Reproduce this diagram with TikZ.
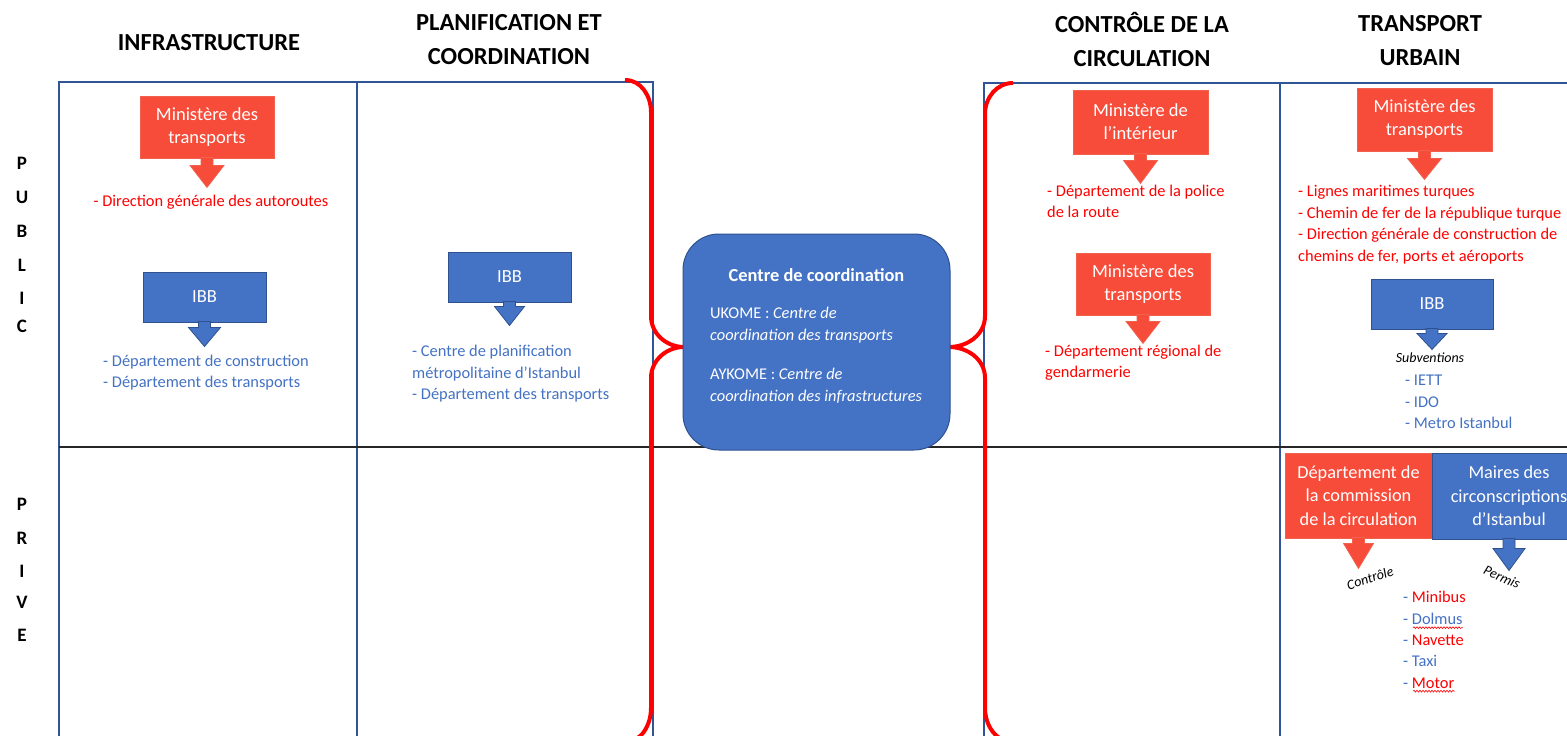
\documentclass[tikz,border=0pt]{standalone}
\usepackage{fontspec}
\setmainfont{Carlito}
\usetikzlibrary{calc,decorations.pathmorphing}
\definecolor{redbox}{RGB}{247,76,58}
\definecolor{redboxline}{RGB}{242,96,78}
\definecolor{bluebox}{RGB}{68,114,196}
\definecolor{blueline}{RGB}{47,82,143}
\definecolor{tableline}{RGB}{47,85,151}
\definecolor{redtxt}{RGB}{255,0,0}
\definecolor{bluetxt}{RGB}{68,114,196}
\definecolor{bracered}{RGB}{255,0,0}
\tikzset{
  redmin/.style={fill=redbox, draw=redboxline, line width=0.8pt, text=white, align=center,
    font=\fontsize{18.5}{23}\selectfont, inner sep=0pt},
  bluemin/.style={fill=bluebox, draw=blueline, line width=1pt, text=white, align=center,
    font=\fontsize{18.5}{23}\selectfont, inner sep=0pt},
  redlist/.style={text=redtxt, align=left, anchor=west, inner sep=0pt,
    font=\fontsize{16.4}{21.5}\selectfont},
  bluelist/.style={text=bluetxt, align=left, anchor=west, inner sep=0pt,
    font=\fontsize{16.4}{21.5}\selectfont},
  header/.style={font=\bfseries\fontsize{24.5}{34}\selectfont, align=center, inner sep=0pt},
  sideletter/.style={font=\bfseries\fontsize{19}{19}\selectfont, inner sep=0pt},
  bracepath/.style={draw=bracered, line width=4pt},
  gridline/.style={draw=tableline, line width=1.4pt},
  rowline/.style={draw=black!85, line width=1.1pt},
  smallital/.style={font=\itshape\fontsize{14}{16}\selectfont, inner sep=0pt},
  centerbox/.style={fill=bluebox, draw=blueline, line width=1pt, rounded corners=36pt,
    minimum width=267pt, minimum height=216pt, inner sep=0pt},
  wavy/.style={draw=redtxt, line width=0.6pt, decorate,
    decoration={snake, amplitude=0.9pt, segment length=3pt}},
}
% #1 node, #2 fill, #3 border, #4 stem length, #5 triangle height, #6 half base
\newcommand\calloutarrow[6]{%
  \filldraw[fill=#2, draw=#3, line width=0.8pt]
    ($(#1.south)+(-6,-1)$) -- ($(#1.south)+(-6,#4)$) -- ($(#1.south)+(-#6,#4)$)
    -- ($(#1.south)+(0,#4+#5)$) -- ($(#1.south)+(#6,#4)$) -- ($(#1.south)+(6,#4)$)
    -- ($(#1.south)+(6,-1)$) -- cycle;
}
\begin{document}
\begin{tikzpicture}[x=1pt,y=-1pt]
\useasboundingbox (0,0) rectangle (1567,736);
\clip (0,0) rectangle (1567,736);
\fill[white] (0,0) rectangle (1567,736);

% headers
\node[header] (h1) at (209,43) {INFRASTRUCTURE};
\node[header] (h2) at (509,40) {PLANIFICATION ET\\COORDINATION};
\node[header] (h4) at (1142,40) {CONTRÔLE DE LA\\CIRCULATION};
\node[header] (h5) at (1420,41) {TRANSPORT\\URBAIN};

% side letters
\node[sideletter] (pu1) at (22,163) {P};
\node[sideletter] (pu2) at (22,197) {U};
\node[sideletter] (pu3) at (22,231) {B};
\node[sideletter] (pu4) at (22,265) {L};
\node[sideletter] (pu5) at (22,298) {I};
\node[sideletter] (pu6) at (22,326) {C};
\node[sideletter] (pr1) at (22,504) {P};
\node[sideletter] (pr2) at (22,538) {R};
\node[sideletter] (pr3) at (22,571) {I};
\node[sideletter] (pr4) at (22,602) {V};
\node[sideletter] (pr5) at (22,635) {E};

% table
\draw[gridline] (59,740) -- (59,82) -- (653,82) -- (653,740);
\draw[gridline] (357,82) -- (357,740);
\draw[gridline] (984,740) -- (984,83) -- (1570,83);
\draw[gridline] (1280,83) -- (1280,740);
\draw[rowline] (59,447) -- (1570,447);

% braces
\coordinate (lbt) at (625,80);
\coordinate (lbtip) at (684,347);
\coordinate (lbb) at (625,742);
\draw[bracepath] (lbt) to[out=0,in=90] (651,112) -- (651,316) to[out=-90,in=180] (lbtip);
\draw[bracepath] (lbtip) to[out=180,in=90] (651,378) -- (651,708) to[out=-90,in=0] (lbb);
\coordinate (rbt) at (1013,83);
\coordinate (rbtip) at (949,347);
\coordinate (rbb) at (1013,742);
\draw[bracepath] (rbt) to[out=180,in=90] (985,114) -- (985,316) to[out=-90,in=0] (rbtip);
\draw[bracepath] (rbtip) to[out=0,in=90] (985,378) -- (985,708) to[out=-90,in=180] (rbb);

% center box
\node[centerbox] (cc) at (816.5,342) {};
\node[text=white, font=\bfseries\fontsize{18.4}{20}\selectfont, inner sep=0pt] (cct) at (816.5,275) {Centre de coordination};
\node[text=white, anchor=west, align=left, inner sep=0pt, font=\fontsize{16.4}{22}\selectfont] (ukome) at (710,325)
  {UKOME : \textit{Centre de}\\\textit{coordination des transports}};
\node[text=white, anchor=west, align=left, inner sep=0pt, font=\fontsize{16.4}{22}\selectfont] (aykome) at (710,385.5)
  {AYKOME : \textit{Centre de}\\\textit{coordination des infrastructures}};

% column 1
\node[redmin, minimum width=134pt, minimum height=62pt] (m1) at (207,127) {Ministère des\\transports};
\calloutarrow{m1}{redbox}{redboxline}{7}{22}{17}
\node[redlist, anchor=center] (t1) at (211,202) {- Direction générale des autoroutes};
\node[bluemin, minimum width=123pt, minimum height=50pt] (ibb1) at (204.5,297) {IBB};
\calloutarrow{ibb1}{bluebox}{blueline}{5}{19}{16}
\node[bluelist] (t2) at (103,372.5) {- Département de construction\\- Département des transports};

% column 2
\node[bluemin, minimum width=123pt, minimum height=50pt] (ibb2) at (509.5,277) {IBB};
\calloutarrow{ibb2}{bluebox}{blueline}{4}{19}{15}
\node[bluelist] (t3) at (412,374) {- Centre de planification\\métropolitaine d’Istanbul\\- Département des transports};

% column 4
\node[redmin, minimum width=135pt, minimum height=64pt] (m4a) at (1140.5,122) {Ministère de\\l’intérieur};
\calloutarrow{m4a}{redbox}{redboxline}{6}{23}{17}
\node[redlist] (t4) at (1047,201.5) {- Département de la police\\de la route};
\node[redmin, minimum width=134pt, minimum height=62pt] (m4b) at (1143,284) {Ministère des\\transports};
\calloutarrow{m4b}{redbox}{redboxline}{6}{22}{17}
\node[redlist] (t5) at (1045,362.5) {- Département régional de\\gendarmerie};

% column 5
\node[redmin, minimum width=135pt, minimum height=63pt] (m5) at (1424.5,119.5) {Ministère des\\transports};
\calloutarrow{m5}{redbox}{redboxline}{7}{21}{17}
\node[redlist, font=\fontsize{16.4}{21.7}\selectfont] (t6) at (1298,224.5)
  {- Lignes maritimes turques\\- Chemin de fer de la république turque\\- Direction générale de construction de\\chemins de fer, ports et aéroports};
\node[bluemin, minimum width=122pt, minimum height=50pt] (ibb5) at (1432,304) {IBB};
\calloutarrow{ibb5}{bluebox}{blueline}{4}{16}{15}
\node[smallital] (sub) at (1430,358) {Subventions};
\node[bluelist] (t7) at (1405,402) {- IETT\\- IDO\\- Metro Istanbul};

% private row
\node[redmin, minimum width=147pt, minimum height=85pt, font=\fontsize{18.3}{23.5}\selectfont] (dcc) at (1358.5,495.5)
  {Département de\\la commission\\de la circulation};
\calloutarrow{dcc}{redbox}{redboxline}{5}{25}{15}
\node[bluemin, minimum width=154pt, minimum height=86pt, font=\fontsize{18.3}{23.5}\selectfont] (mai) at (1509,496)
  {Maires des\\circonscriptions\\d’Istanbul};
\calloutarrow{mai}{bluebox}{blueline}{9}{22}{16}
\node[smallital, rotate=18] (ctl) at (1370,578) {Contrôle};
\node[smallital, rotate=-24] (perm) at (1502,577) {Permis};

\node[bluelist] (l1) at (1403,597) {- \textcolor{redtxt}{Minibus}};
\node[bluelist] (l2) at (1403,619) {- Dolmus};
\node[bluelist] (l3) at (1403,640) {- \textcolor{redtxt}{Navette}};
\node[bluelist] (l4) at (1403,661) {- Taxi};
\node[bluelist] (l5) at (1403,683) {- \textcolor{redtxt}{Motor}};
\draw[wavy] ($(l2.base west)+(10,3)$) -- ($(l2.base east)+(0,3)$);
\draw[wavy] ($(l5.base west)+(10,3)$) -- ($(l5.base east)+(0,3)$);
\end{tikzpicture}
\end{document}
